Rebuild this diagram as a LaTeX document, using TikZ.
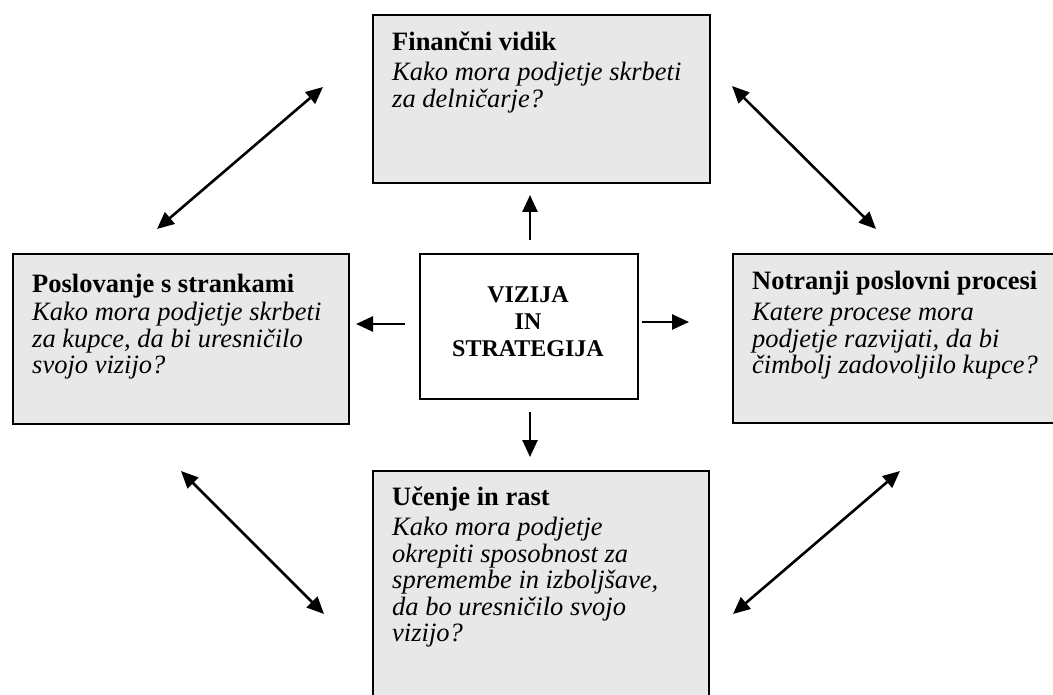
\documentclass[tikz,border=0pt]{standalone}
\usepackage{fontspec}
\setmainfont{Liberation Serif}
\usetikzlibrary{arrows.meta}
\definecolor{panelgray}{RGB}{232,232,232}
\tikzset{
  panel/.style={draw=black, line width=2pt, fill=panelgray, rectangle, inner sep=0pt, anchor=north west},
  core/.style={draw=black, line width=2pt, fill=white, rectangle, inner sep=0pt, anchor=north west},
  paneltext/.style={anchor=north west, inner sep=0pt, align=left,
    font=\fontsize{26.5}{26.5}\selectfont\itshape},
  coretext/.style={inner sep=0pt, align=center,
    font=\fontsize{24}{27}\selectfont\bfseries},
  link/.style={line width=2.6pt, -{Triangle[length=17pt,width=15pt]}},
  twoway/.style={line width=2.6pt, {Triangle[length=17pt,width=15pt]}-{Triangle[length=17pt,width=15pt]}}
}
\newcommand{\firstline}{\rule{0pt}{22pt}}
\newcommand{\heading}[1]{\textbf{\upshape #1}}
\begin{document}
\begin{tikzpicture}[x=1pt,y=-1pt]
  \useasboundingbox (0,0) rectangle (1053,695);
  \clip (0,0) rectangle (1053,695);

  % perspective boxes
  \node[panel, minimum width=337, minimum height=168] (fin) at (372,14) {};
  \node[panel, minimum width=336, minimum height=170] (cust) at (12,253) {};
  \node[panel, minimum width=340, minimum height=169] (proc) at (732,253) {};
  \node[panel, minimum width=336, minimum height=260] (learn) at (372,470) {};
  \node[core, minimum width=218, minimum height=145] (vis) at (419,253) {};

  % box texts
  \node[paneltext] (fintxt) at (392,28) {\firstline\heading{Finančni vidik}\\[4pt]
    Kako mora podjetje skrbeti\\ za delničarje?};
  \node[paneltext] (custtxt) at (32,270) {\firstline\heading{Poslovanje s strankami}\\[2pt]
    Kako mora podjetje skrbeti\\ za kupce, da bi uresničilo\\ svojo vizijo?};
  \node[paneltext] (proctxt) at (752,267) {\firstline\heading{Notranji poslovni procesi}\\[5pt]
    Katere procese mora\\ podjetje razvijati, da bi\\ čimbolj zadovoljilo kupce?};
  \node[paneltext] (learntxt) at (392,483) {\firstline\heading{Učenje in rast}\\[4pt]
    Kako mora podjetje\\ okrepiti sposobnost za\\ spremembe in izboljšave,\\ da bo uresničilo svojo\\ vizijo?};
  \node[coretext] (vistxt) at (528,322) {VIZIJA\\IN\\STRATEGIJA};

  % arrow ends around the centre
  \coordinate (upA) at (530,240);   \coordinate (upB) at (530,195);
  \coordinate (dnA) at (530,412);   \coordinate (dnB) at (530,457);
  \coordinate (rtA) at (642,322);   \coordinate (rtB) at (689,322);
  \coordinate (ltA) at (405,324);   \coordinate (ltB) at (356,324);
  \draw[link] (upA) -- (upB);
  \draw[link] (dnA) -- (dnB);
  \draw[link] (rtA) -- (rtB);
  \draw[link] (ltA) -- (ltB);

  % two-way links between neighbouring perspectives
  \coordinate (ulA) at (157,229);   \coordinate (ulB) at (323,87);
  \coordinate (urA) at (732,86);    \coordinate (urB) at (876,229);
  \coordinate (llA) at (181,471);   \coordinate (llB) at (324,614);
  \coordinate (lrA) at (900,471);   \coordinate (lrB) at (733,614);
  \draw[twoway] (ulA) -- (ulB);
  \draw[twoway] (urA) -- (urB);
  \draw[twoway] (llA) -- (llB);
  \draw[twoway] (lrA) -- (lrB);
\end{tikzpicture}
\end{document}
